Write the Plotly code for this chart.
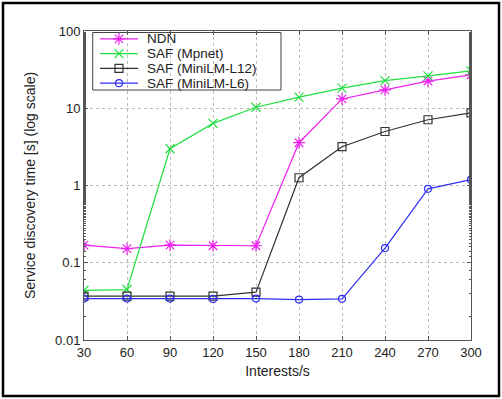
import plotly.graph_objects as go

x = [30, 60, 90, 120, 150, 180, 210, 240, 270, 300]
ndn = [0.169, 0.152, 0.169, 0.166, 0.166, 3.58, 13.2, 17.3, 22.5, 27.0]
mpnet = [0.044, 0.045, 2.99, 6.37, 10.3, 13.9, 18.2, 22.8, 26.2, 30.5]
l12 = [0.037, 0.037, 0.037, 0.037, 0.0416, 1.26, 3.18, 5.0, 7.1, 8.7]
l6 = [0.0344, 0.0344, 0.0344, 0.0340, 0.0344, 0.0334, 0.0341, 0.155, 0.906, 1.19]

names = ["NDN", "SAF (Mpnet)", "SAF (MiniLM-L12)", "SAF (MiniLM-L6)"]
ytickvals = [0.01, 0.1, 1, 10, 100]
yticktext = ["0.01", "0.1", "1", "10", "100"]

FONT = "Liberation Sans, Arial, sans-serif"
fig = go.Figure()
specs = [
    (ndn, names[0], "#f020f0", "asterisk-open", 10),
    (mpnet, names[1], "#22e040", "x-thin-open", 9),
    (l12, names[2], "#333333", "square-open", 8),
    (l6, names[3], "#3030f0", "circle-open", 7),
]
for ys, nm, col, sym, sz in specs:
    fig.add_trace(go.Scatter(
        x=x, y=ys, name=nm, mode="lines+markers", showlegend=False,
        line=dict(color=col, width=1.2),
        marker=dict(symbol=sym, size=sz, color=col, line=dict(width=1.2, color=col)),
    ))

# compact legend drawn on an overlay axis spanning the plot area (0..1)
rows = [(340 - py) / 309 for py in (38.8, 53.6, 68.4, 83.2)]
kx0, kxm, kx1, tx = 0.0413, 0.0904, 0.1395, 0.1576
for (ys, nm, col, sym, sz), ry in zip(specs, rows):
    fig.add_trace(go.Scatter(
        x=[kx0, kx1], y=[ry, ry], mode="lines", xaxis="x2", yaxis="y2",
        showlegend=False, hoverinfo="skip", line=dict(color=col, width=1.2)))
    fig.add_trace(go.Scatter(
        x=[kxm], y=[ry], mode="markers", xaxis="x2", yaxis="y2",
        showlegend=False, hoverinfo="skip",
        marker=dict(symbol=sym, size=sz, color=col, line=dict(width=1.2, color=col))))
    fig.add_annotation(x=tx, y=ry, xref="x2", yref="y2", text=nm, showarrow=False,
                       xanchor="left", yanchor="middle",
                       font=dict(family=FONT, size=13.5, color="#222"))
fig.add_shape(type="rect", xref="x2", yref="y2", x0=0.0225, x1=0.509,
              y0=(340 - 90) / 309, y1=(340 - 32.5) / 309,
              line=dict(color="#444", width=1), fillcolor="white", layer="below")

fig.update_layout(
    width=502, height=399,
    margin=dict(l=84, r=31, t=31, b=59),
    paper_bgcolor="white", plot_bgcolor="rgba(0,0,0,0)",
    font=dict(family=FONT, size=13, color="#222"),
    showlegend=False,
    xaxis2=dict(overlaying="x", range=[0, 1], visible=False, fixedrange=True),
    yaxis2=dict(overlaying="y", range=[0, 1], visible=False, fixedrange=True),
)
fig.update_layout(xaxis=dict(
    range=[30, 300], tickvals=x, ticks="inside", ticklen=4, mirror="ticks",
    showline=True, linecolor="#555", linewidth=1, tickcolor="#555",
    showgrid=True, gridcolor="#bbbbbb", griddash="dot", gridwidth=1,
    zeroline=False, tickfont=dict(size=13),
    title=dict(text="Interests/s", font=dict(size=14), standoff=7),
))
fig.update_layout(yaxis=dict(
    type="log", range=[-2, 2], tickvals=ytickvals, ticktext=yticktext,
    ticks="inside", ticklen=4, mirror="ticks", tickcolor="#555",
    showline=True, linecolor="#555", linewidth=1,
    showgrid=True, gridcolor="#bbbbbb", griddash="dot", gridwidth=1,
    minor=dict(ticks="inside", ticklen=2, tickcolor="#555", showgrid=False),
    zeroline=False, tickfont=dict(size=13),
    title=dict(text="Service discovery time [s] (log scale)", font=dict(size=14), standoff=16),
))

# outer frame around the whole picture
fig.add_shape(type="rect", xref="paper", yref="paper",
              x0=(3 - 84) / 387, x1=(499 - 84) / 387,
              y0=(340 - 396) / 309, y1=(340 - 3) / 309,
              line=dict(color="black", width=2.5), layer="above")

fig.write_html("out.html", config={"displayModeBar": False},
               post_script="document.body.style.margin='0';document.body.style.overflow='hidden';")
